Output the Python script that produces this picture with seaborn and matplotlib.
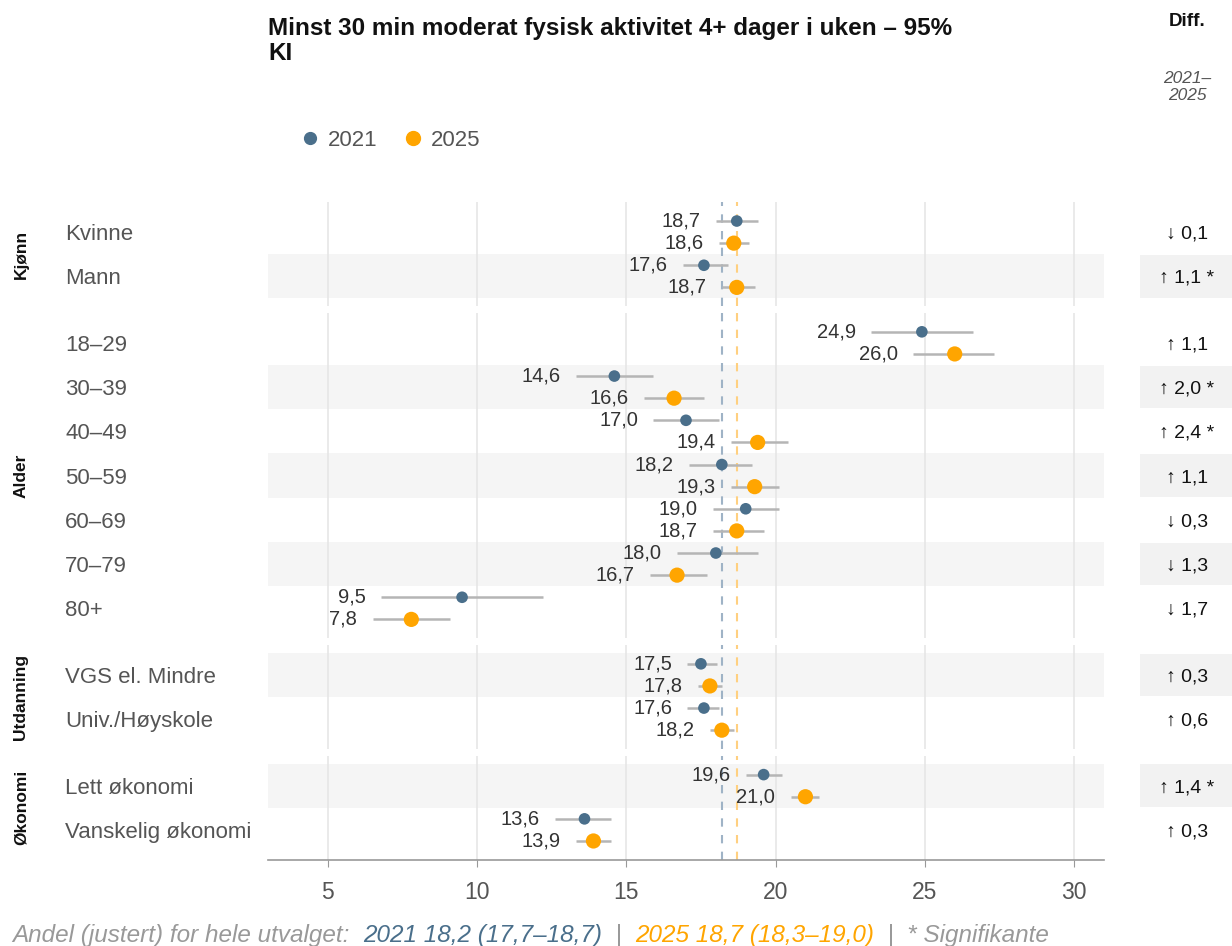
import numpy as np
import matplotlib
matplotlib.use("Agg")
import matplotlib.pyplot as plt
import matplotlib.transforms as mtransforms
from matplotlib.patches import Rectangle
from matplotlib.lines import Line2D
import seaborn as sns

# -----------------------------
# Data
# -----------------------------
groups = ["Kjønn", "Alder", "Utdanning", "Økonomi"]
categories = [
    ["Kvinne", "Mann"],
    ["18–29", "30–39", "40–49", "50–59", "60–69", "70–79", "80+"],
    ["VGS el. Mindre", "Univ./Høyskole"],
    ["Lett økonomi", "Vanskelig økonomi"],
]

est_2021 = [18.7, 17.6, 24.9, 14.6, 17.0, 18.2, 19.0, 18.0, 9.5, 17.5, 17.6, 19.6, 13.6]
lo_2021 = [18.0, 16.9, 23.2, 13.3, 15.9, 17.1, 17.9, 16.7, 6.8, 17.05, 17.05, 19.0, 12.6]
hi_2021 = [19.4, 18.4, 26.6, 15.9, 18.1, 19.2, 20.1, 19.4, 12.2, 18.05, 18.1, 20.2, 14.5]

est_2025 = [18.6, 18.7, 26.0, 16.6, 19.4, 19.3, 18.7, 16.7, 7.8, 17.8, 18.2, 21.0, 13.9]
lo_2025 = [18.1, 18.2, 24.6, 15.6, 18.5, 18.5, 17.9, 15.8, 6.5, 17.4, 17.8, 20.5, 13.3]
hi_2025 = [19.1, 19.3, 27.3, 17.6, 20.4, 20.1, 19.6, 17.7, 9.1, 18.2, 18.6, 21.45, 14.5]

diff_text = ["↓ 0,1", "↑ 1,1 *", "↑ 1,1", "↑ 2,0 *", "↑ 2,4 *", "↑ 1,1", "↓ 0,3",
             "↓ 1,3", "↓ 1,7", "↑ 0,3", "↑ 0,6", "↑ 1,4 *", "↑ 0,3"]

overall_2021 = 18.2
overall_2025 = 18.7

years = ["2021", "2025"]
col_2021 = "#4a6f8b"
col_2025 = "#ffa500"
grey_text = "#555555"

plt.rcParams["font.family"] = ["Liberation Sans", "DejaVu Sans"]

# -----------------------------
# Layout
# -----------------------------
W, H = 1232, 946
fig = plt.figure(figsize=(W / 100, H / 100), dpi=100)

pad = 0.68
ratios = [len(c) - 1 + 2 * pad for c in categories]
gs = fig.add_gridspec(len(groups), 1, height_ratios=ratios,
                      left=268 / W, right=1104 / W, top=1 - 202 / H, bottom=1 - 860 / H,
                      hspace=0.04)

idx = 0
for g, (grp, cats) in enumerate(zip(groups, categories)):
    ax = fig.add_subplot(gs[g])
    n = len(cats)
    rows = np.arange(n)
    sl = slice(idx, idx + n)

    # alternating shading (global index)
    trans_fig_x = mtransforms.blended_transform_factory(fig.transFigure, ax.transData)
    for r in rows:
        if (idx + r) % 2 == 1:
            ax.axhspan(r - 0.5, r + 0.5, color="#f5f5f5", zorder=0, lw=0)
            ax.add_patch(Rectangle((1140 / W, r - 0.48), 92 / W, 0.96, transform=trans_fig_x,
                                   color="#f2f2f2", lw=0, clip_on=False, zorder=0))

    ax.axvline(overall_2021, color="#9fb3c6", ls=(0, (4, 4)), lw=1.5, zorder=1)
    ax.axvline(overall_2025, color="#ffd080", ls=(0, (4, 4)), lw=1.5, zorder=1)

    y21 = rows - 0.25
    y25 = rows + 0.25
    ax.hlines(y21, lo_2021[sl], hi_2021[sl], color="#b5b5b5", lw=1.8, zorder=2)
    ax.hlines(y25, lo_2025[sl], hi_2025[sl], color="#b5b5b5", lw=1.8, zorder=2)
    sns.scatterplot(x=est_2021[sl], y=y21, ax=ax, color=col_2021, s=70,
                    edgecolor="none", zorder=3, legend=False)
    sns.scatterplot(x=est_2025[sl], y=y25, ax=ax, color=col_2025, s=120,
                    edgecolor="none", zorder=3, legend=False)

    for r in rows:
        for yy, est, lo in [(y21[r], est_2021[idx + r], lo_2021[idx + r]),
                            (y25[r], est_2025[idx + r], lo_2025[idx + r])]:
            ax.annotate(f"{est:.1f}".replace(".", ","), (lo, yy), xytext=(-11, 0),
                        textcoords="offset points", ha="right", va="center",
                        fontsize=14.5, color="#333333")
        ax.text(65 / W, r, cats[r], transform=trans_fig_x, ha="left", va="center_baseline",
                fontsize=16, color=grey_text)
        ax.text(1187 / W, r, diff_text[idx + r], transform=trans_fig_x, ha="center",
                va="center_baseline", fontsize=14, color="#111111")

    ax.text(21 / W, (n - 1) / 2, grp, transform=trans_fig_x, rotation=90, ha="center",
            va="center", fontsize=12.5, fontweight="bold", color="#111111")

    ax.set_xlim(3, 31)
    ax.set_ylim(n - 1 + pad, -pad)
    ax.set_yticks([])
    ax.set_xticks([5, 10, 15, 20, 25, 30])
    ax.grid(axis="x", color="#e6e6e6", lw=1.2, zorder=0)
    ax.set_axisbelow(True)
    for s in ax.spines.values():
        s.set_visible(False)
    ax.set_facecolor("white")
    if g < len(groups) - 1:
        ax.tick_params(axis="x", length=0, labelbottom=False)
    else:
        ax.spines["bottom"].set_visible(True)
        ax.spines["bottom"].set_color("#999999")
        ax.spines["bottom"].set_linewidth(1.2)
        ax.tick_params(axis="x", length=5, color="#999999", labelsize=16.5,
                       labelcolor=grey_text, pad=10)
    idx += n

# -----------------------------
# Titles, legend, footer
# -----------------------------
fig.text(268 / W, 1 - 17 / H, "Minst 30 min moderat fysisk aktivitet 4+ dager i uken – 95%\nKI",
         ha="left", va="top", fontsize=17.5, fontweight="bold", color="#111111", linespacing=1.1)
fig.text(1187 / W, 1 - 22 / H, "Diff.", ha="center", va="center", fontsize=13.5,
         fontweight="bold", color="#111111")
fig.text(1187 / W, 1 - 87 / H, "2021–\n2025", ha="center", va="center", fontsize=12.5,
         style="italic", color=grey_text, linespacing=1.15)

handles = [Line2D([], [], marker="o", ls="none", color=col_2021, markersize=8.5),
           Line2D([], [], marker="o", ls="none", color=col_2025, markersize=10)]
leg = fig.legend(handles, years, loc="center left", bbox_to_anchor=(286 / W, 1 - 140 / H),
                 ncol=2, frameon=False, fontsize=16, handletextpad=0.2, columnspacing=1.0,
                 handlelength=1.2, borderpad=0)
for t in leg.get_texts():
    t.set_color(grey_text)

fy = 1 - 935 / H
parts = [("Andel (justert) for hele utvalget:  ", "#999999"),
         ("2021 18,2 (17,7–18,7)", col_2021),
         ("  |  ", "#999999"),
         ("2025 18,7 (18,3–19,0)", col_2025),
         ("  |  * Signifikante", "#999999")]
renderer = fig.canvas.get_renderer()
x = 12 / W
for txt, c in parts:
    t = fig.text(x, fy, txt, ha="left", va="center", fontsize=17.5, style="italic", color=c)
    bb = t.get_window_extent(renderer=renderer)
    x += bb.width / W

fig.savefig("out.png", dpi=100)
